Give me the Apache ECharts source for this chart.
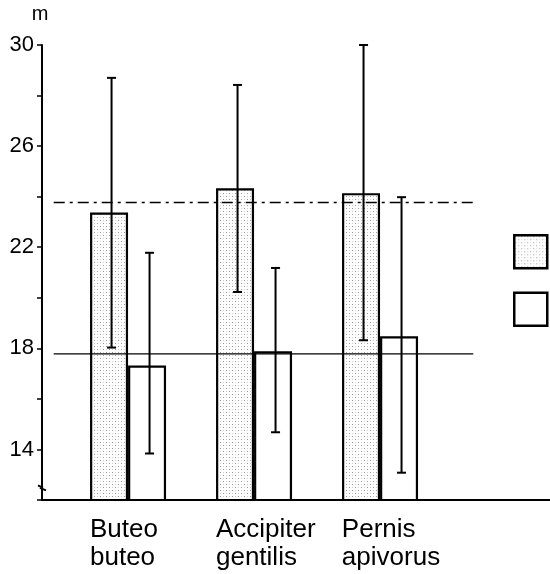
<!DOCTYPE html>
<html>
<head>
<meta charset="utf-8">
<style>
  html, body { margin: 0; padding: 0; background: #fff; }
  #chart { width: 550px; height: 574px; }
</style>
<script src="https://cdn.jsdelivr.net/npm/echarts@6/dist/echarts.min.js"></script>
</head>
<body>
<div id="chart"></div>
<script>
// ---- data ----
const categories = ['Buteo\nbuteo', 'Accipiter\ngentilis', 'Pernis\napivorus'];
const shadedValues = [23.37, 24.33, 24.14];
const shadedHigh = [28.70, 28.42, 30.00];
const shadedLow = [18.03, 20.23, 18.32];
const openValues = [17.32, 17.88, 18.48];
const openHigh = [21.78, 21.18, 23.98];
const openLow = [13.84, 14.68, 13.08];
const refSolid = 17.78;
const refDashDot = 23.77;
const refLineSpan = [0.41, 3.74];           // x extent of reference lines (category units)
const yTickLabels = [14, 18, 22, 26, 30];
const labelPositions = [0.698, 1.698, 2.697]; // left edge of each category label

// ---- styles ----
const BAR_W = 38;
const ERR_SHIFT = 2.5;

function makeStipple() {
  const c = document.createElement('canvas');
  c.width = 6; c.height = 6;
  const g = c.getContext('2d');
  g.fillStyle = '#ffffff';
  g.fillRect(0, 0, 6, 6);
  g.fillStyle = '#9a9a9a';
  g.fillRect(1, 1, 1, 1);
  g.fillRect(4, 4, 1, 1);
  g.fillStyle = '#d0d0d0';
  g.fillRect(4, 1, 1, 1);
  g.fillRect(1, 4, 1, 1);
  return c;
}
const stipple = { image: makeStipple(), repeat: 'repeat' };

const shadedData = shadedValues.map((v, i) => [i + 1, v]);
const openData = openValues.map((v, i) => [i + 1, v]);
const shadedErr = shadedHigh.map((h, i) => [i + 1, h, shadedLow[i]]);
const openErr = openHigh.map((h, i) => [i + 1, h, openLow[i]]);

function errRenderer(side) {
  return function (params, api) {
    const x = api.value(0);
    const top = api.coord([x, api.value(1)]);
    const bot = api.coord([x, api.value(2)]);
    const px = top[0] + side * BAR_W / 2 + ERR_SHIFT;
    const style = { stroke: '#000', lineWidth: 2 };
    const cap = 4.5;
    return {
      type: 'group',
      children: [
        { type: 'line', shape: { x1: px, y1: top[1], x2: px, y2: bot[1] }, style: style },
        { type: 'line', shape: { x1: px - cap, y1: top[1], x2: px + cap, y2: top[1] }, style: style },
        { type: 'line', shape: { x1: px - cap, y1: bot[1], x2: px + cap, y2: bot[1] }, style: style }
      ]
    };
  };
}

const chart = echarts.init(document.getElementById('chart'), null, { renderer: 'canvas' });
const fontFamily = 'Liberation Sans, Arial, Helvetica, sans-serif';

chart.setOption({
  animation: false,
  backgroundColor: '#fff',
  textStyle: { fontFamily: fontFamily, color: '#000' },
  grid: { left: 42, right: 0, top: 45, bottom: 74, containLabel: false },
  legend: {
    orient: 'vertical',
    left: 513, top: 234,
    padding: 0,
    itemGap: 22,
    itemWidth: 33, itemHeight: 33,
    icon: 'rect',
    formatter: function () { return ''; },
    selectedMode: false,
    itemStyle: { borderColor: '#000', borderWidth: 2.5 },
    data: [
      { name: 'a', itemStyle: { color: stipple, borderColor: '#000', borderWidth: 2.5 } },
      { name: 'b', itemStyle: { color: '#fff', borderColor: '#000', borderWidth: 2.5 } }
    ]
  },
  xAxis: {
    type: 'value',
    min: 0.317, max: 4.349,
    axisLine: { onZero: false, lineStyle: { color: '#000', width: 2 } },
    axisTick: { show: false },
    splitLine: { show: false },
    axisLabel: {
      customValues: labelPositions,
      formatter: function (v) { return categories[Math.round(v - 0.5)] || ''; },
      align: 'left',
      verticalAlign: 'top',
      margin: 16,
      fontSize: 26,
      lineHeight: 28,
      color: '#000',
      fontFamily: fontFamily
    }
  },
  yAxis: {
    type: 'value',
    min: 12, max: 30, interval: 2,
    name: 'm',
    nameLocation: 'end',
    nameGap: 21,
    nameTextStyle: { fontSize: 20, color: '#000', fontFamily: fontFamily, align: 'center', padding: [0, 4, 0, 0] },
    axisLine: { show: true, onZero: false, lineStyle: { color: '#000', width: 2 } },
    axisTick: { show: true, length: 5, lineStyle: { color: '#000', width: 1.5 } },
    splitLine: { show: false },
    axisLabel: {
      margin: 8,
      fontSize: 22,
      color: '#000',
      fontFamily: fontFamily,
      formatter: function (v) { return yTickLabels.indexOf(v) >= 0 ? String(v) : ''; }
    }
  },
  series: [
    {
      name: 'a', type: 'bar', data: shadedData,
      barWidth: BAR_W, barGap: '0%',
      itemStyle: { color: stipple, borderColor: '#000', borderWidth: 2.2 },
      z: 2
    },
    {
      name: 'b', type: 'bar', data: openData,
      barWidth: BAR_W, barGap: '0%',
      itemStyle: { color: '#fff', borderColor: '#000', borderWidth: 2.2 },
      z: 2
    },
    {
      type: 'line', data: refLineSpan.map(x => [x, refSolid]),
      symbol: 'none', silent: true,
      lineStyle: { color: '#000', width: 1.3 }, z: 3
    },
    {
      type: 'line', data: refLineSpan.map(x => [x, refDashDot]),
      symbol: 'none', silent: true,
      lineStyle: { color: '#000', width: 1.6, type: [11, 5, 3, 5] }, z: 3
    },
    { type: 'custom', data: shadedErr, renderItem: errRenderer(-1), z: 4, silent: true },
    { type: 'custom', data: openErr, renderItem: errRenderer(1), z: 4, silent: true }
  ]
});

// small axis-break mark near the bottom of the y axis
const bp = chart.convertToPixel({ gridIndex: 0 }, [0.317, 12.5]);
chart.setOption({
  graphic: [{
    type: 'polyline',
    shape: { points: [[bp[0] - 4, bp[1] - 2], [bp[0], bp[1]], [bp[0] - 1, bp[1] + 1], [bp[0] + 4, bp[1] + 3]] },
    style: { stroke: '#000', lineWidth: 1.8, fill: null },
    z: 10
  }]
});
</script>
</body>
</html>
